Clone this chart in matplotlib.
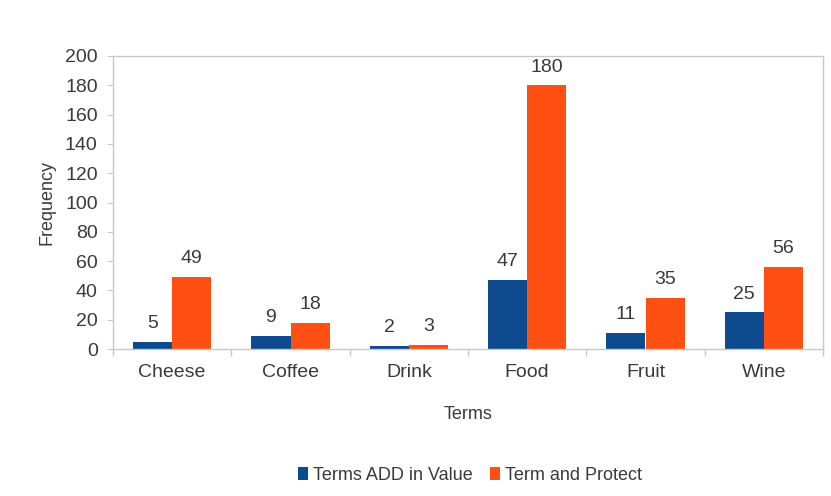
import numpy as np
import matplotlib.pyplot as plt

plt.rcParams['font.family'] = ['Liberation Sans', 'DejaVu Sans']

# Term frequencies per category
terms = ['Cheese', 'Coffee', 'Drink', 'Food', 'Fruit', 'Wine']
add_in_value = [5, 9, 2, 47, 11, 25]
term_protect = [49, 18, 3, 180, 35, 56]
series_names = ['Terms ADD in Value', 'Term and Protect']

blue = '#0d4a8e'
orange = '#ff4f12'
text_col = '#3a3a3a'
axis_col = '#c8c8c8'

fig = plt.figure(figsize=(8.31, 4.96), dpi=100)
ax = fig.add_axes([113 / 831, 1 - 349 / 496, 710 / 831, 293 / 496])

x = np.arange(len(terms))
w = 0.33
b1 = ax.bar(x - w / 2, add_in_value, w, color=blue, label=series_names[0])
b2 = ax.bar(x + w / 2, term_protect, w, color=orange, label=series_names[1])

# value labels above each bar
for bars, vals in ((b1, add_in_value), (b2, term_protect)):
    for rect, v in zip(bars, vals):
        ax.annotate(str(v), (rect.get_x() + rect.get_width() / 2, v),
                    xytext=(0, 7), textcoords='offset points',
                    ha='center', va='bottom', fontsize=14, color=text_col)

ax.set_xlim(-0.5, len(terms) - 0.5)
ax.set_ylim(0, 200)
ax.set_yticks(range(0, 201, 20))
ax.set_xticks(x)
ax.set_xticklabels(terms)
ax.set_xticks(np.arange(-0.5, len(terms)), minor=True)
ax.tick_params(axis='x', which='major', length=0, pad=11, labelsize=14, labelcolor=text_col)
ax.tick_params(axis='x', which='minor', length=5, color=axis_col, width=1)
ax.tick_params(axis='y', length=4, color=axis_col, labelsize=14, labelcolor=text_col, pad=7)

for side in ['top', 'right', 'left', 'bottom']:
    ax.spines[side].set_color(axis_col)
    ax.spines[side].set_linewidth(1)

ax.set_xlabel('Terms', fontsize=13, color=text_col, labelpad=18)
ax.set_ylabel('Frequency', fontsize=13, color=text_col, labelpad=7)

fig.legend(loc='center', bbox_to_anchor=(470 / 831, 1 - 475 / 496), ncol=2,
           frameon=False, fontsize=13, handlelength=0.55, handleheight=0.7,
           handletextpad=0.25, columnspacing=1.0, labelcolor=text_col)

fig.savefig('out.png', dpi=100)
